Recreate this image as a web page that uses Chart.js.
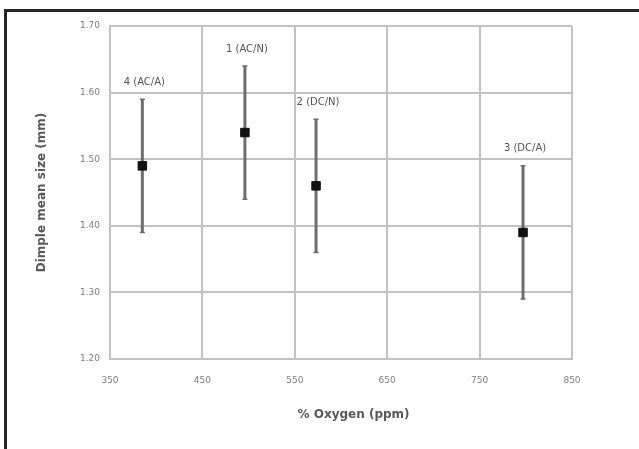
<!DOCTYPE html>
<html>
<head>
<meta charset="utf-8">
<script src="https://cdn.jsdelivr.net/npm/chart.js@4"></script>
<style>
  body { margin: 0; background: #fff; }
  #wrap { position: relative; width: 639px; height: 449px; }
  #frame { position: absolute; left: 4px; top: 9px; right: 0; bottom: 0;
           border-top: 3px solid #262626; border-left: 3px solid #262626; }
  canvas { position: absolute; left: 0; top: 0; }
</style>
</head>
<body>
<div id="wrap">
  <div id="frame"></div>
  <canvas id="dimpleChart"></canvas>
</div>
<script>
'use strict';

// data
const sampleNames = ['4 (AC/A)', '1 (AC/N)', '2 (DC/N)', '3 (DC/A)'];
const oxygen = [385, 496, 573, 797];
const meanSize = [1.49, 1.54, 1.46, 1.39];
const sizeLow = [1.39, 1.44, 1.36, 1.29];
const sizeHigh = [1.59, 1.64, 1.56, 1.49];

const xTicks = [350, 450, 550, 650, 750, 850];
const yTicks = [1.2, 1.3, 1.4, 1.5, 1.6, 1.7];

const points = oxygen.map((x, i) => ({ x: x, y: meanSize[i] }));

// error bars + point names
const errorBars = {
  id: 'errorBars',
  beforeDatasetsDraw(chart) {
    const { ctx, scales: { x, y } } = chart;
    ctx.save();
    ctx.strokeStyle = '#6e6e6e';
    oxygen.forEach((o, i) => {
      const px = x.getPixelForValue(o);
      const top = y.getPixelForValue(sizeHigh[i]);
      const bot = y.getPixelForValue(sizeLow[i]);
      ctx.lineWidth = 3;
      ctx.beginPath();
      ctx.moveTo(px, top);
      ctx.lineTo(px, bot);
      ctx.stroke();
      ctx.lineWidth = 1.5;
      ctx.beginPath();
      ctx.moveTo(px - 2.5, top); ctx.lineTo(px + 2.5, top);
      ctx.moveTo(px - 2.5, bot); ctx.lineTo(px + 2.5, bot);
      ctx.stroke();
    });
    ctx.restore();
  },
  afterDatasetsDraw(chart) {
    const { ctx, scales: { x, y } } = chart;
    ctx.save();
    ctx.font = '10px "DejaVu Sans"';
    ctx.fillStyle = '#555';
    ctx.textAlign = 'center';
    ctx.textBaseline = 'middle';
    sampleNames.forEach((name, i) => {
      ctx.fillText(name, x.getPixelForValue(oxygen[i]) + 2, y.getPixelForValue(sizeHigh[i]) - 17);
    });
    ctx.restore();
  }
};

const dimpleConfig = {
  type: 'scatter',
  data: {
    datasets: [
      {
        label: 'Dimple mean size',
        data: points,
        backgroundColor: '#111',
        borderColor: '#111',
        pointStyle: 'rect',
        pointRadius: 6,
        pointHoverRadius: 6,
      },
    ],
  },
  options: {
    responsive: true,
    maintainAspectRatio: false,
    animation: false,
    layout: { padding: { left: 0, top: 26, right: 67, bottom: 0 } },
    plugins: { legend: { display: false }, tooltip: { enabled: false } },
    scales: {
      x: {
        type: 'linear',
        min: 350,
        max: 850,
        afterBuildTicks: (s) => { s.ticks = xTicks.map(v => ({ value: v })); },
        afterFit: (s) => { s.height = 90; },
        grid: { color: '#c2c2c2', lineWidth: 2, drawTicks: false },
        border: { color: '#c2c2c2', width: 2 },
        ticks: { color: '#808080', font: { family: 'DejaVu Sans', size: 9 }, padding: 16,
                 maxRotation: 0 },
        // leading spaces nudge the title right like the original
        title: { display: true, text: '      % Oxygen (ppm)', color: '#595959',
                 font: { family: 'DejaVu Sans', size: 12, weight: 'bold' },
                 padding: { top: 0, bottom: 27 } },
      },
      y: {
        type: 'linear',
        min: 1.2,
        max: 1.7,
        afterBuildTicks: (s) => { s.ticks = yTicks.map(v => ({ value: v })); },
        afterFit: (s) => { s.width = 110; },
        grid: { color: '#c2c2c2', lineWidth: 2, drawTicks: false },
        border: { color: '#c2c2c2', width: 2 },
        ticks: { color: '#808080', font: { family: 'DejaVu Sans', size: 9 }, padding: 10,
                 callback: (v) => v.toFixed(2) },
        title: { display: true, text: 'Dimple mean size (mm)', color: '#595959',
                 font: { family: 'DejaVu Sans', size: 12, weight: 'bold' },
                 padding: { top: 35, bottom: 0 } },
      },
    },
  },
  plugins: [errorBars],
};

const dimpleChart = new Chart(
  document.getElementById('dimpleChart'),
  dimpleConfig
);
</script>
</body>
</html>
